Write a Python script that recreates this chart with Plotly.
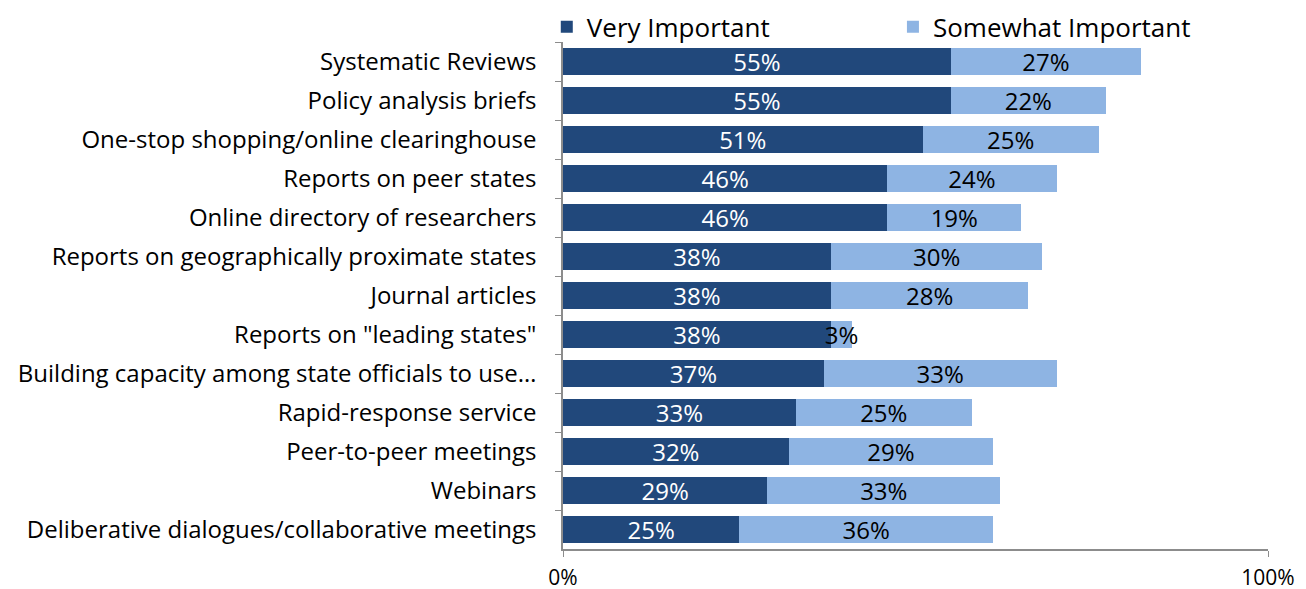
import plotly.graph_objects as go

# categories listed top to bottom as in the chart
categories = [
    'Systematic Reviews',
    'Policy analysis briefs',
    'One-stop shopping/online clearinghouse',
    'Reports on peer states',
    'Online directory of researchers',
    'Reports on geographically proximate states',
    'Journal articles',
    'Reports on "leading states"',
    'Building capacity among state officials to use…',
    'Rapid-response service',
    'Peer-to-peer meetings',
    'Webinars',
    'Deliberative dialogues/collaborative meetings',
]
very_important = [55, 55, 51, 46, 46, 38, 38, 38, 37, 33, 32, 29, 25]
somewhat_important = [27, 22, 25, 24, 19, 30, 28, 3, 33, 25, 29, 33, 36]

tick_vals = [0, 100]
tick_text = ['0%', '100%']

dark_blue = '#21487B'
light_blue = '#8EB4E3'
font_family = 'Open Sans, sans-serif'

fig = go.Figure()

fig.add_trace(go.Bar(
    y=categories, x=very_important, orientation='h',
    name='Very Important', marker=dict(color=dark_blue, line=dict(width=0)),
    text=[f'{v}%' for v in very_important], textposition='inside',
    insidetextanchor='middle', constraintext='none', textangle=0,
    textfont=dict(color='white', size=24, family=font_family),
    legend='legend', showlegend=True,
))
fig.add_trace(go.Bar(
    y=categories, x=somewhat_important, orientation='h',
    name='Somewhat Important', marker=dict(color=light_blue, line=dict(width=0)),
    text=[f'{v}%' for v in somewhat_important], textposition='inside',
    insidetextanchor='middle', constraintext='none', textangle=0,
    textfont=dict(color='black', size=24, family=font_family),
    legend='legend2', showlegend=True,
))

# page body adds an 8px offset, so the figure is drawn 8px smaller
legend_style = dict(
    orientation='h', yanchor='middle', y=1.03, xanchor='left',
    font=dict(size=26), bgcolor='rgba(0,0,0,0)', visible=True,
)

fig.update_layout(
    barmode='stack',
    bargap=0.33,
    width=1298, height=589,
    margin=dict(l=555, r=38, t=34, b=48, autoexpand=False),
    plot_bgcolor='white', paper_bgcolor='white',
    font=dict(family=font_family, color='black'),
    uniformtext=dict(minsize=24, mode='show'),
    showlegend=True,
    legend=dict(x=-0.023, **legend_style),
    legend2=dict(x=0.468, **legend_style),
)

fig.update_xaxes(
    range=[0, 100], tickvals=tick_vals, ticktext=tick_text,
    showgrid=False, zeroline=False,
    showline=True, linecolor='#8c8c8c', linewidth=1.5,
    ticks='outside', ticklen=6, tickcolor='#8c8c8c',
    tickfont=dict(size=21), ticklabelstandoff=3,
)
fig.update_yaxes(
    autorange='reversed', showgrid=False, zeroline=False,
    showline=True, linecolor='#8c8c8c', linewidth=1.5,
    ticks='outside', tickson='boundaries', ticklen=6, tickcolor='#8c8c8c',
    tickfont=dict(size=24), ticklabelstandoff=20,
)

fig.write_html('out.html')
